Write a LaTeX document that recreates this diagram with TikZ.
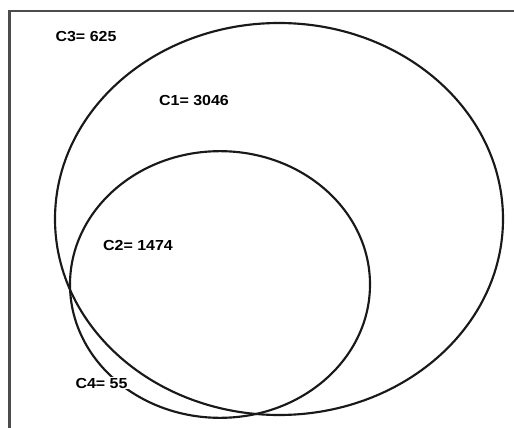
\documentclass[tikz,border=0pt]{standalone}
\usepackage{fontspec}
\usetikzlibrary{shapes.geometric}
\newfontfamily\labfont[FakeStretch=1.1]{Liberation Sans}
\begin{document}
\begin{tikzpicture}[x=0.75pt,y=-0.75pt,
  ring/.style={ellipse,draw=black!90,line width=1.6pt,inner sep=0pt,outer sep=0pt},
  lab/.style={font=\labfont\bfseries\fontsize{10.9pt}{12pt}\selectfont,inner sep=1pt,fill=white},
  frameline/.style={draw=black!70,line width=1.6pt}]
\useasboundingbox (0,0) rectangle (514,428);
\fill[white] (0,0) rectangle (514,428);
\coordinate (fbl) at (9.5,430);
\coordinate (ftl) at (9.5,11);
\coordinate (ftr) at (516,11);
\draw[frameline] (fbl) -- (ftl) -- (ftr);
\node[ring,minimum width=336pt,minimum height=294pt] (big) at (279,219) {};
\node[ring,minimum width=225pt,minimum height=200pt] (small) at (220,284.5) {};
\node[lab] (c3) at (86,37) {C3= 625};
\node[lab] (c1) at (194,101) {C1= 3046};
\node[lab] (c2) at (138,245) {C2= 1474};
\node[lab] (c4) at (101.5,383) {C4= 55};
\end{tikzpicture}
\end{document}
